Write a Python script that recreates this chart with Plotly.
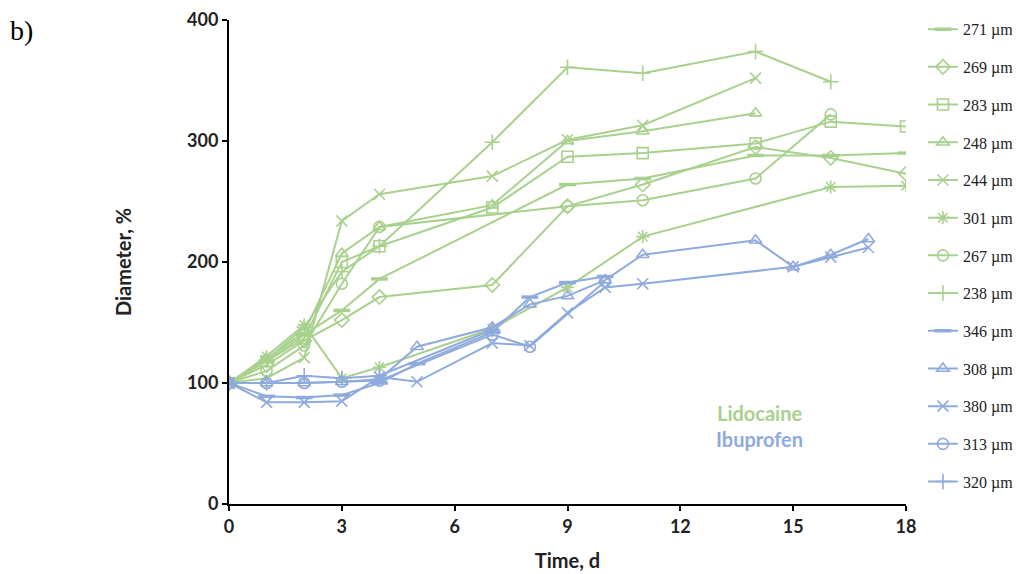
import plotly.graph_objects as go

GREEN = "#A9D18E"
BLUE = "#8FAADC"

# ---- data (day, diameter %) ----
s271_x = [0, 1, 2, 3, 4, 9, 11, 14, 16, 18]
s271_y = [100, 118, 140, 160, 186, 264, 269, 288, 288, 290]

s269_x = [0, 1, 2, 3, 4, 7, 9, 11, 14, 16, 18]
s269_y = [100, 115, 135, 152, 171, 181, 246, 264, 295, 286, 273]

s283_x = [0, 1, 2, 3, 4, 7, 9, 11, 14, 16, 18]
s283_y = [100, 118, 137, 200, 213, 245, 287, 290, 298, 316, 312]

s248_x = [0, 1, 2, 3, 4, 7, 9, 11, 14]
s248_y = [100, 120, 142, 207, 229, 247, 300, 308, 323]

s244_x = [0, 1, 2, 3, 4, 7, 9, 11, 14]
s244_y = [100, 104, 121, 234, 256, 271, 301, 313, 352]

s301_x = [0, 1, 2, 3, 4, 7, 9, 11, 16, 18]
s301_y = [100, 122, 148, 104, 113, 145, 179, 221, 262, 263]

s267_x = [0, 1, 2, 3, 4, 9, 11, 14, 16]
s267_y = [100, 110, 131, 182, 229, 246, 251, 269, 322]

s238_x = [0, 1, 2, 3, 4, 7, 9, 11, 14, 16]
s238_y = [100, 119, 146, 192, 213, 299, 361, 356, 374, 349]

s346_x = [0, 1, 2, 3, 4, 5, 7, 8, 9, 10]
s346_y = [100, 89, 88, 90, 100, 116, 142, 171, 183, 188]

s308_x = [0, 1, 2, 3, 4, 5, 7, 8, 9, 10, 11, 14, 15, 16, 17]
s308_y = [100, 100, 100, 101, 103, 130, 146, 165, 172, 185, 206, 218, 196, 206, 219]

s380_x = [0, 1, 2, 3, 4, 5, 7, 8, 9, 10, 11, 15, 16, 17]
s380_y = [100, 84, 84, 85, 105, 101, 133, 131, 158, 179, 182, 196, 204, 212]

s313_x = [0, 1, 2, 3, 4, 7, 8, 10]
s313_y = [100, 100, 100, 101, 102, 140, 130, 184]

s320_x = [0, 1, 2, 3, 4, 7]
s320_y = [100, 100, 106, 104, 106, 144]

series = [
    ("271 µm", s271_x, s271_y, GREEN, "line-ew-open"),
    ("269 µm", s269_x, s269_y, GREEN, "diamond-open"),
    ("283 µm", s283_x, s283_y, GREEN, "square-open"),
    ("248 µm", s248_x, s248_y, GREEN, "triangle-up-open"),
    ("244 µm", s244_x, s244_y, GREEN, "x-thin-open"),
    ("301 µm", s301_x, s301_y, GREEN, "asterisk-open"),
    ("267 µm", s267_x, s267_y, GREEN, "circle-open"),
    ("238 µm", s238_x, s238_y, GREEN, "cross-thin-open"),
    ("346 µm", s346_x, s346_y, BLUE, "line-ew-open"),
    ("308 µm", s308_x, s308_y, BLUE, "triangle-up-open"),
    ("380 µm", s380_x, s380_y, BLUE, "x-thin-open"),
    ("313 µm", s313_x, s313_y, BLUE, "circle-open"),
    ("320 µm", s320_x, s320_y, BLUE, "cross-thin-open"),
]

x_ticks = [0, 3, 6, 9, 12, 15, 18]
y_ticks = [0, 100, 200, 300, 400]

fig = go.Figure()
for i, (name, xs, ys, col, sym) in enumerate(series):
    is_dash = sym.startswith("line-ew")
    fig.add_trace(go.Scatter(
        x=xs, y=ys, name=name, mode="lines+markers",
        legendgroup=f"g{i}",
        line=dict(color=col, width=2),
        marker=dict(symbol=sym, size=11 if not is_dash else 12,
                    color=col,
                    line=dict(color=col, width=3.5 if is_dash else 1.6)),
    ))

AX_FONT = dict(family="Lato, 'Open Sans', sans-serif", size=20, color="#222222")
TICK_FONT = dict(family="Lato, sans-serif", size=18, color="#222222", weight="bold")

# page has an 8px body margin, so the figure is sized to fit the window
fig.update_layout(
    width=1017, height=566,
    margin=dict(l=221, r=119, t=12, b=70, autoexpand=False),
    paper_bgcolor="white", plot_bgcolor="white",
    showlegend=True,
    legend=dict(
        x=1.025, y=1.016, xanchor="left", yanchor="top",
        font=dict(family="Liberation Serif, serif", size=16, color="#222222"),
        tracegroupgap=13.9, itemwidth=30, maxheight=560,
        bgcolor="rgba(0,0,0,0)",
    ),
    xaxis=dict(
        range=[0, 18], tickvals=x_ticks, ticktext=[str(v) for v in x_ticks],
        showgrid=False, zeroline=False,
        showline=True, linecolor="black", linewidth=2,
        ticks="outside", ticklen=5, tickwidth=2, tickcolor="black",
        tickfont=TICK_FONT,
        title=dict(text="<b>Time, d</b>", font=AX_FONT, standoff=18),
    ),
    yaxis=dict(
        range=[0, 400], tickvals=y_ticks, ticktext=[str(v) for v in y_ticks],
        showgrid=False, zeroline=False,
        showline=True, linecolor="black", linewidth=2,
        ticks="outside", ticklen=5, tickwidth=2, tickcolor="black",
        tickfont=TICK_FONT,
        title=dict(text="<b>Diameter, %</b>", font=AX_FONT, standoff=50),
    ),
    annotations=[
        dict(text="b)", xref="paper", yref="paper", x=-0.327, y=1.014,
             xanchor="left", yanchor="top", showarrow=False,
             font=dict(family="Liberation Serif, serif", size=28, color="black")),
        dict(text="<b>Lidocaine</b>", xref="x", yref="y", x=14.1, y=75,
             xanchor="center", yanchor="middle", showarrow=False,
             font=dict(family="Lato, sans-serif", size=20, color=GREEN)),
        dict(text="<b>Ibuprofen</b>", xref="x", yref="y", x=14.1, y=54,
             xanchor="center", yanchor="middle", showarrow=False,
             font=dict(family="Lato, sans-serif", size=20, color=BLUE)),
    ],
)

fig.write_html("out.html")
